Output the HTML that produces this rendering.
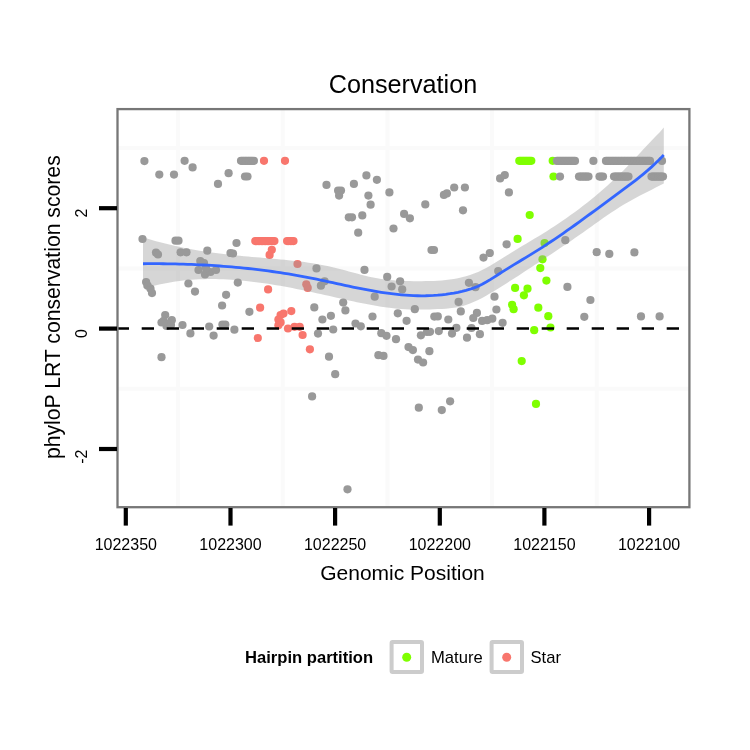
<!DOCTYPE html>
<html><head><meta charset="utf-8"><style>
html,body{margin:0;padding:0;background:#fff;}
svg{display:block;font-family:"Liberation Sans",sans-serif;will-change:transform;}
</style></head><body>
<svg width="750" height="750" viewBox="0 0 750 750">
<rect x="0" y="0" width="750" height="750" fill="#fff"/>
<text x="403" y="93" text-anchor="middle" font-size="25.2">Conservation</text>
<rect x="118" y="109" width="571" height="398" fill="#fff"/>
<line x1="178.1" y1="109" x2="178.1" y2="507" stroke="#fafafa" stroke-width="4"/><line x1="282.8" y1="109" x2="282.8" y2="507" stroke="#fafafa" stroke-width="4"/><line x1="387.5" y1="109" x2="387.5" y2="507" stroke="#fafafa" stroke-width="4"/><line x1="492.1" y1="109" x2="492.1" y2="507" stroke="#fafafa" stroke-width="4"/><line x1="596.8" y1="109" x2="596.8" y2="507" stroke="#fafafa" stroke-width="4"/><line x1="118" y1="148.0" x2="689" y2="148.0" stroke="#fafafa" stroke-width="4"/><line x1="118" y1="268.4" x2="689" y2="268.4" stroke="#fafafa" stroke-width="4"/><line x1="118" y1="388.8" x2="689" y2="388.8" stroke="#fafafa" stroke-width="4"/>
<circle cx="519.3" cy="160.8" r="4.1" fill="#7FFF00"/><circle cx="520.8" cy="160.8" r="4.1" fill="#7FFF00"/><circle cx="522.3" cy="160.8" r="4.1" fill="#7FFF00"/><circle cx="523.8" cy="160.8" r="4.1" fill="#7FFF00"/><circle cx="525.3" cy="160.8" r="4.1" fill="#7FFF00"/><circle cx="526.8" cy="160.8" r="4.1" fill="#7FFF00"/><circle cx="528.3" cy="160.8" r="4.1" fill="#7FFF00"/><circle cx="529.8" cy="160.8" r="4.1" fill="#7FFF00"/><circle cx="531.3" cy="160.8" r="4.1" fill="#7FFF00"/><circle cx="552.7" cy="160.8" r="4.1" fill="#7FFF00"/><circle cx="553.5" cy="176.5" r="4.1" fill="#7FFF00"/><circle cx="529.7" cy="215.0" r="4.1" fill="#7FFF00"/><circle cx="517.6" cy="238.9" r="4.1" fill="#7FFF00"/><circle cx="544.6" cy="243.0" r="4.1" fill="#7FFF00"/><circle cx="542.5" cy="259.3" r="4.1" fill="#7FFF00"/><circle cx="540.3" cy="268.1" r="4.1" fill="#7FFF00"/><circle cx="546.4" cy="280.6" r="4.1" fill="#7FFF00"/><circle cx="515.1" cy="287.9" r="4.1" fill="#7FFF00"/><circle cx="527.5" cy="288.7" r="4.1" fill="#7FFF00"/><circle cx="523.9" cy="295.3" r="4.1" fill="#7FFF00"/><circle cx="512.1" cy="304.8" r="4.1" fill="#7FFF00"/><circle cx="513.6" cy="309.2" r="4.1" fill="#7FFF00"/><circle cx="538.3" cy="307.7" r="4.1" fill="#7FFF00"/><circle cx="548.3" cy="316.2" r="4.1" fill="#7FFF00"/><circle cx="550.5" cy="327.5" r="4.1" fill="#7FFF00"/><circle cx="534.2" cy="330.2" r="4.1" fill="#7FFF00"/><circle cx="521.7" cy="361.1" r="4.1" fill="#7FFF00"/><circle cx="536.0" cy="403.9" r="4.1" fill="#7FFF00"/>
<circle cx="264.0" cy="160.8" r="4.1" fill="#F8766D"/><circle cx="285.0" cy="160.8" r="4.1" fill="#F8766D"/><circle cx="255.3" cy="241.1" r="4.1" fill="#F8766D"/><circle cx="256.8" cy="241.1" r="4.1" fill="#F8766D"/><circle cx="258.2" cy="241.1" r="4.1" fill="#F8766D"/><circle cx="259.7" cy="241.1" r="4.1" fill="#F8766D"/><circle cx="261.2" cy="241.1" r="4.1" fill="#F8766D"/><circle cx="262.6" cy="241.1" r="4.1" fill="#F8766D"/><circle cx="264.1" cy="241.1" r="4.1" fill="#F8766D"/><circle cx="265.6" cy="241.1" r="4.1" fill="#F8766D"/><circle cx="267.1" cy="241.1" r="4.1" fill="#F8766D"/><circle cx="268.5" cy="241.1" r="4.1" fill="#F8766D"/><circle cx="270.0" cy="241.1" r="4.1" fill="#F8766D"/><circle cx="271.5" cy="241.1" r="4.1" fill="#F8766D"/><circle cx="272.9" cy="241.1" r="4.1" fill="#F8766D"/><circle cx="274.4" cy="241.1" r="4.1" fill="#F8766D"/><circle cx="287.1" cy="241.1" r="4.1" fill="#F8766D"/><circle cx="288.7" cy="241.1" r="4.1" fill="#F8766D"/><circle cx="290.3" cy="241.1" r="4.1" fill="#F8766D"/><circle cx="291.9" cy="241.1" r="4.1" fill="#F8766D"/><circle cx="293.5" cy="241.1" r="4.1" fill="#F8766D"/><circle cx="271.8" cy="249.8" r="4.1" fill="#F8766D"/><circle cx="269.6" cy="254.9" r="4.1" fill="#F8766D"/><circle cx="297.5" cy="264.0" r="4.1" fill="#F8766D"/><circle cx="306.3" cy="284.3" r="4.1" fill="#F8766D"/><circle cx="307.7" cy="287.9" r="4.1" fill="#F8766D"/><circle cx="268.1" cy="289.4" r="4.1" fill="#F8766D"/><circle cx="260.1" cy="307.7" r="4.1" fill="#F8766D"/><circle cx="280.6" cy="315.1" r="4.1" fill="#F8766D"/><circle cx="278.4" cy="319.5" r="4.1" fill="#F8766D"/><circle cx="280.6" cy="322.4" r="4.1" fill="#F8766D"/><circle cx="278.4" cy="325.3" r="4.1" fill="#F8766D"/><circle cx="283.5" cy="313.6" r="4.1" fill="#F8766D"/><circle cx="291.3" cy="311.1" r="4.1" fill="#F8766D"/><circle cx="288.0" cy="328.5" r="4.1" fill="#F8766D"/><circle cx="294.5" cy="326.8" r="4.1" fill="#F8766D"/><circle cx="299.7" cy="326.8" r="4.1" fill="#F8766D"/><circle cx="302.6" cy="335.0" r="4.1" fill="#F8766D"/><circle cx="257.8" cy="338.0" r="4.1" fill="#F8766D"/><circle cx="309.9" cy="349.3" r="4.1" fill="#F8766D"/>
<circle cx="144.4" cy="161.1" r="4.1" fill="#999999"/><circle cx="159.3" cy="174.6" r="4.1" fill="#999999"/><circle cx="174.0" cy="174.6" r="4.1" fill="#999999"/><circle cx="184.6" cy="160.8" r="4.1" fill="#999999"/><circle cx="192.6" cy="167.4" r="4.1" fill="#999999"/><circle cx="218.0" cy="183.9" r="4.1" fill="#999999"/><circle cx="228.6" cy="173.2" r="4.1" fill="#999999"/><circle cx="245.0" cy="176.5" r="4.1" fill="#999999"/><circle cx="247.5" cy="176.5" r="4.1" fill="#999999"/><circle cx="326.5" cy="184.9" r="4.1" fill="#999999"/><circle cx="338.1" cy="190.5" r="4.1" fill="#999999"/><circle cx="341.0" cy="190.5" r="4.1" fill="#999999"/><circle cx="339.1" cy="195.6" r="4.1" fill="#999999"/><circle cx="353.9" cy="183.9" r="4.1" fill="#999999"/><circle cx="366.4" cy="175.4" r="4.1" fill="#999999"/><circle cx="376.9" cy="179.8" r="4.1" fill="#999999"/><circle cx="368.4" cy="195.6" r="4.1" fill="#999999"/><circle cx="370.6" cy="204.7" r="4.1" fill="#999999"/><circle cx="389.4" cy="192.4" r="4.1" fill="#999999"/><circle cx="348.8" cy="217.3" r="4.1" fill="#999999"/><circle cx="352.0" cy="217.3" r="4.1" fill="#999999"/><circle cx="362.3" cy="215.4" r="4.1" fill="#999999"/><circle cx="358.2" cy="232.7" r="4.1" fill="#999999"/><circle cx="393.5" cy="228.5" r="4.1" fill="#999999"/><circle cx="404.1" cy="213.9" r="4.1" fill="#999999"/><circle cx="409.9" cy="218.3" r="4.1" fill="#999999"/><circle cx="425.3" cy="204.4" r="4.1" fill="#999999"/><circle cx="431.5" cy="250.0" r="4.1" fill="#999999"/><circle cx="434.0" cy="250.0" r="4.1" fill="#999999"/><circle cx="443.9" cy="194.9" r="4.1" fill="#999999"/><circle cx="446.9" cy="193.4" r="4.1" fill="#999999"/><circle cx="454.2" cy="187.5" r="4.1" fill="#999999"/><circle cx="464.9" cy="187.5" r="4.1" fill="#999999"/><circle cx="463.0" cy="210.3" r="4.1" fill="#999999"/><circle cx="500.1" cy="178.4" r="4.1" fill="#999999"/><circle cx="504.8" cy="175.1" r="4.1" fill="#999999"/><circle cx="508.9" cy="192.4" r="4.1" fill="#999999"/><circle cx="506.6" cy="244.3" r="4.1" fill="#999999"/><circle cx="483.5" cy="257.6" r="4.1" fill="#999999"/><circle cx="489.8" cy="253.0" r="4.1" fill="#999999"/><circle cx="557.0" cy="160.9" r="4.1" fill="#999999"/><circle cx="558.5" cy="160.9" r="4.1" fill="#999999"/><circle cx="560.0" cy="160.9" r="4.1" fill="#999999"/><circle cx="561.5" cy="160.9" r="4.1" fill="#999999"/><circle cx="563.0" cy="160.9" r="4.1" fill="#999999"/><circle cx="564.5" cy="160.9" r="4.1" fill="#999999"/><circle cx="566.0" cy="160.9" r="4.1" fill="#999999"/><circle cx="567.5" cy="160.9" r="4.1" fill="#999999"/><circle cx="569.0" cy="160.9" r="4.1" fill="#999999"/><circle cx="570.5" cy="160.9" r="4.1" fill="#999999"/><circle cx="572.0" cy="160.9" r="4.1" fill="#999999"/><circle cx="573.5" cy="160.9" r="4.1" fill="#999999"/><circle cx="575.0" cy="160.9" r="4.1" fill="#999999"/><circle cx="593.4" cy="160.9" r="4.1" fill="#999999"/><circle cx="606.0" cy="160.9" r="4.1" fill="#999999"/><circle cx="607.5" cy="160.9" r="4.1" fill="#999999"/><circle cx="609.0" cy="160.9" r="4.1" fill="#999999"/><circle cx="610.6" cy="160.9" r="4.1" fill="#999999"/><circle cx="612.1" cy="160.9" r="4.1" fill="#999999"/><circle cx="613.6" cy="160.9" r="4.1" fill="#999999"/><circle cx="615.1" cy="160.9" r="4.1" fill="#999999"/><circle cx="616.6" cy="160.9" r="4.1" fill="#999999"/><circle cx="618.1" cy="160.9" r="4.1" fill="#999999"/><circle cx="619.7" cy="160.9" r="4.1" fill="#999999"/><circle cx="621.2" cy="160.9" r="4.1" fill="#999999"/><circle cx="622.7" cy="160.9" r="4.1" fill="#999999"/><circle cx="624.2" cy="160.9" r="4.1" fill="#999999"/><circle cx="625.7" cy="160.9" r="4.1" fill="#999999"/><circle cx="627.2" cy="160.9" r="4.1" fill="#999999"/><circle cx="628.8" cy="160.9" r="4.1" fill="#999999"/><circle cx="630.3" cy="160.9" r="4.1" fill="#999999"/><circle cx="631.8" cy="160.9" r="4.1" fill="#999999"/><circle cx="633.3" cy="160.9" r="4.1" fill="#999999"/><circle cx="634.8" cy="160.9" r="4.1" fill="#999999"/><circle cx="636.3" cy="160.9" r="4.1" fill="#999999"/><circle cx="637.9" cy="160.9" r="4.1" fill="#999999"/><circle cx="639.4" cy="160.9" r="4.1" fill="#999999"/><circle cx="640.9" cy="160.9" r="4.1" fill="#999999"/><circle cx="642.4" cy="160.9" r="4.1" fill="#999999"/><circle cx="643.9" cy="160.9" r="4.1" fill="#999999"/><circle cx="645.4" cy="160.9" r="4.1" fill="#999999"/><circle cx="647.0" cy="160.9" r="4.1" fill="#999999"/><circle cx="648.5" cy="160.9" r="4.1" fill="#999999"/><circle cx="650.0" cy="160.9" r="4.1" fill="#999999"/><circle cx="662.0" cy="160.9" r="4.1" fill="#999999"/><circle cx="560.0" cy="176.6" r="4.1" fill="#999999"/><circle cx="579.0" cy="176.6" r="4.1" fill="#999999"/><circle cx="580.6" cy="176.6" r="4.1" fill="#999999"/><circle cx="582.2" cy="176.6" r="4.1" fill="#999999"/><circle cx="583.8" cy="176.6" r="4.1" fill="#999999"/><circle cx="585.3" cy="176.6" r="4.1" fill="#999999"/><circle cx="586.9" cy="176.6" r="4.1" fill="#999999"/><circle cx="588.5" cy="176.6" r="4.1" fill="#999999"/><circle cx="599.5" cy="176.6" r="4.1" fill="#999999"/><circle cx="601.2" cy="176.6" r="4.1" fill="#999999"/><circle cx="603.0" cy="176.6" r="4.1" fill="#999999"/><circle cx="614.0" cy="176.6" r="4.1" fill="#999999"/><circle cx="615.5" cy="176.6" r="4.1" fill="#999999"/><circle cx="616.9" cy="176.6" r="4.1" fill="#999999"/><circle cx="618.4" cy="176.6" r="4.1" fill="#999999"/><circle cx="619.8" cy="176.6" r="4.1" fill="#999999"/><circle cx="621.2" cy="176.6" r="4.1" fill="#999999"/><circle cx="622.7" cy="176.6" r="4.1" fill="#999999"/><circle cx="624.1" cy="176.6" r="4.1" fill="#999999"/><circle cx="625.6" cy="176.6" r="4.1" fill="#999999"/><circle cx="627.0" cy="176.6" r="4.1" fill="#999999"/><circle cx="628.5" cy="176.6" r="4.1" fill="#999999"/><circle cx="651.5" cy="176.6" r="4.1" fill="#999999"/><circle cx="652.9" cy="176.6" r="4.1" fill="#999999"/><circle cx="654.4" cy="176.6" r="4.1" fill="#999999"/><circle cx="655.8" cy="176.6" r="4.1" fill="#999999"/><circle cx="657.2" cy="176.6" r="4.1" fill="#999999"/><circle cx="658.7" cy="176.6" r="4.1" fill="#999999"/><circle cx="660.1" cy="176.6" r="4.1" fill="#999999"/><circle cx="661.6" cy="176.6" r="4.1" fill="#999999"/><circle cx="663.0" cy="176.6" r="4.1" fill="#999999"/><circle cx="241.0" cy="160.8" r="4.1" fill="#999999"/><circle cx="242.4" cy="160.8" r="4.1" fill="#999999"/><circle cx="243.9" cy="160.8" r="4.1" fill="#999999"/><circle cx="245.3" cy="160.8" r="4.1" fill="#999999"/><circle cx="246.7" cy="160.8" r="4.1" fill="#999999"/><circle cx="248.2" cy="160.8" r="4.1" fill="#999999"/><circle cx="249.6" cy="160.8" r="4.1" fill="#999999"/><circle cx="251.0" cy="160.8" r="4.1" fill="#999999"/><circle cx="252.5" cy="160.8" r="4.1" fill="#999999"/><circle cx="253.9" cy="160.8" r="4.1" fill="#999999"/><circle cx="565.3" cy="240.2" r="4.1" fill="#999999"/><circle cx="596.7" cy="252.2" r="4.1" fill="#999999"/><circle cx="609.3" cy="253.8" r="4.1" fill="#999999"/><circle cx="634.4" cy="252.4" r="4.1" fill="#999999"/><circle cx="142.5" cy="239.0" r="4.1" fill="#999999"/><circle cx="175.5" cy="240.7" r="4.1" fill="#999999"/><circle cx="178.5" cy="240.7" r="4.1" fill="#999999"/><circle cx="236.5" cy="243.0" r="4.1" fill="#999999"/><circle cx="156.0" cy="252.5" r="4.1" fill="#999999"/><circle cx="158.0" cy="254.5" r="4.1" fill="#999999"/><circle cx="180.6" cy="252.3" r="4.1" fill="#999999"/><circle cx="186.5" cy="252.3" r="4.1" fill="#999999"/><circle cx="207.3" cy="250.7" r="4.1" fill="#999999"/><circle cx="230.5" cy="253.0" r="4.1" fill="#999999"/><circle cx="233.0" cy="253.5" r="4.1" fill="#999999"/><circle cx="200.3" cy="261.0" r="4.1" fill="#999999"/><circle cx="204.0" cy="263.0" r="4.1" fill="#999999"/><circle cx="198.5" cy="270.0" r="4.1" fill="#999999"/><circle cx="205.0" cy="274.5" r="4.1" fill="#999999"/><circle cx="210.5" cy="272.0" r="4.1" fill="#999999"/><circle cx="216.0" cy="270.0" r="4.1" fill="#999999"/><circle cx="206.0" cy="268.0" r="4.1" fill="#999999"/><circle cx="146.1" cy="282.1" r="4.1" fill="#999999"/><circle cx="147.6" cy="285.7" r="4.1" fill="#999999"/><circle cx="150.5" cy="288.7" r="4.1" fill="#999999"/><circle cx="152.0" cy="293.1" r="4.1" fill="#999999"/><circle cx="188.4" cy="283.5" r="4.1" fill="#999999"/><circle cx="195.0" cy="291.6" r="4.1" fill="#999999"/><circle cx="226.1" cy="294.8" r="4.1" fill="#999999"/><circle cx="222.1" cy="305.5" r="4.1" fill="#999999"/><circle cx="237.8" cy="282.6" r="4.1" fill="#999999"/><circle cx="165.2" cy="315.1" r="4.1" fill="#999999"/><circle cx="163.7" cy="320.9" r="4.1" fill="#999999"/><circle cx="171.8" cy="320.2" r="4.1" fill="#999999"/><circle cx="168.1" cy="323.9" r="4.1" fill="#999999"/><circle cx="166.5" cy="326.0" r="4.1" fill="#999999"/><circle cx="171.0" cy="325.0" r="4.1" fill="#999999"/><circle cx="161.5" cy="322.5" r="4.1" fill="#999999"/><circle cx="182.5" cy="325.0" r="4.1" fill="#999999"/><circle cx="190.4" cy="333.4" r="4.1" fill="#999999"/><circle cx="209.2" cy="326.5" r="4.1" fill="#999999"/><circle cx="222.4" cy="324.6" r="4.1" fill="#999999"/><circle cx="225.3" cy="324.6" r="4.1" fill="#999999"/><circle cx="213.6" cy="335.6" r="4.1" fill="#999999"/><circle cx="234.4" cy="329.7" r="4.1" fill="#999999"/><circle cx="316.5" cy="268.4" r="4.1" fill="#999999"/><circle cx="320.9" cy="285.7" r="4.1" fill="#999999"/><circle cx="324.6" cy="281.3" r="4.1" fill="#999999"/><circle cx="249.4" cy="311.8" r="4.1" fill="#999999"/><circle cx="314.3" cy="307.4" r="4.1" fill="#999999"/><circle cx="322.4" cy="319.5" r="4.1" fill="#999999"/><circle cx="330.9" cy="315.8" r="4.1" fill="#999999"/><circle cx="318.0" cy="333.6" r="4.1" fill="#999999"/><circle cx="333.2" cy="329.5" r="4.1" fill="#999999"/><circle cx="364.5" cy="269.9" r="4.1" fill="#999999"/><circle cx="387.2" cy="276.9" r="4.1" fill="#999999"/><circle cx="400.1" cy="281.3" r="4.1" fill="#999999"/><circle cx="391.6" cy="286.5" r="4.1" fill="#999999"/><circle cx="402.2" cy="289.4" r="4.1" fill="#999999"/><circle cx="374.7" cy="296.7" r="4.1" fill="#999999"/><circle cx="343.2" cy="302.6" r="4.1" fill="#999999"/><circle cx="345.4" cy="310.4" r="4.1" fill="#999999"/><circle cx="372.5" cy="316.5" r="4.1" fill="#999999"/><circle cx="397.8" cy="313.3" r="4.1" fill="#999999"/><circle cx="414.8" cy="309.2" r="4.1" fill="#999999"/><circle cx="406.6" cy="320.8" r="4.1" fill="#999999"/><circle cx="434.3" cy="316.6" r="4.1" fill="#999999"/><circle cx="437.8" cy="316.4" r="4.1" fill="#999999"/><circle cx="355.5" cy="323.5" r="4.1" fill="#999999"/><circle cx="360.8" cy="326.3" r="4.1" fill="#999999"/><circle cx="381.3" cy="333.2" r="4.1" fill="#999999"/><circle cx="386.5" cy="335.8" r="4.1" fill="#999999"/><circle cx="420.9" cy="335.3" r="4.1" fill="#999999"/><circle cx="427.0" cy="332.0" r="4.1" fill="#999999"/><circle cx="438.8" cy="331.1" r="4.1" fill="#999999"/><circle cx="396.0" cy="339.2" r="4.1" fill="#999999"/><circle cx="498.2" cy="271.1" r="4.1" fill="#999999"/><circle cx="468.9" cy="282.8" r="4.1" fill="#999999"/><circle cx="475.5" cy="287.2" r="4.1" fill="#999999"/><circle cx="494.5" cy="296.7" r="4.1" fill="#999999"/><circle cx="458.6" cy="301.9" r="4.1" fill="#999999"/><circle cx="460.8" cy="311.4" r="4.1" fill="#999999"/><circle cx="448.3" cy="319.5" r="4.1" fill="#999999"/><circle cx="476.9" cy="312.9" r="4.1" fill="#999999"/><circle cx="473.3" cy="318.0" r="4.1" fill="#999999"/><circle cx="482.1" cy="320.9" r="4.1" fill="#999999"/><circle cx="487.2" cy="320.2" r="4.1" fill="#999999"/><circle cx="492.3" cy="318.7" r="4.1" fill="#999999"/><circle cx="496.4" cy="309.5" r="4.1" fill="#999999"/><circle cx="502.6" cy="322.8" r="4.1" fill="#999999"/><circle cx="430.0" cy="331.8" r="4.1" fill="#999999"/><circle cx="456.4" cy="327.8" r="4.1" fill="#999999"/><circle cx="452.0" cy="333.6" r="4.1" fill="#999999"/><circle cx="471.5" cy="328.0" r="4.1" fill="#999999"/><circle cx="479.9" cy="334.2" r="4.1" fill="#999999"/><circle cx="467.0" cy="337.7" r="4.1" fill="#999999"/><circle cx="567.4" cy="286.9" r="4.1" fill="#999999"/><circle cx="590.4" cy="300.0" r="4.1" fill="#999999"/><circle cx="584.3" cy="316.8" r="4.1" fill="#999999"/><circle cx="641.0" cy="316.4" r="4.1" fill="#999999"/><circle cx="659.6" cy="316.4" r="4.1" fill="#999999"/><circle cx="161.5" cy="357.2" r="4.1" fill="#999999"/><circle cx="329.0" cy="356.7" r="4.1" fill="#999999"/><circle cx="335.2" cy="374.2" r="4.1" fill="#999999"/><circle cx="312.1" cy="396.4" r="4.1" fill="#999999"/><circle cx="378.4" cy="355.2" r="4.1" fill="#999999"/><circle cx="383.5" cy="355.9" r="4.1" fill="#999999"/><circle cx="408.5" cy="347.1" r="4.1" fill="#999999"/><circle cx="412.9" cy="350.1" r="4.1" fill="#999999"/><circle cx="418.0" cy="359.6" r="4.1" fill="#999999"/><circle cx="423.1" cy="362.5" r="4.1" fill="#999999"/><circle cx="429.4" cy="351.2" r="4.1" fill="#999999"/><circle cx="418.8" cy="407.7" r="4.1" fill="#999999"/><circle cx="441.8" cy="410.1" r="4.1" fill="#999999"/><circle cx="450.1" cy="401.3" r="4.1" fill="#999999"/><circle cx="347.5" cy="489.3" r="4.1" fill="#999999"/>
<path d="M143.00,237.31 147.04,238.55 151.07,239.74 155.11,240.88 159.15,241.98 163.19,243.03 167.22,244.04 171.26,245.01 175.30,245.93 179.33,246.82 183.37,247.66 187.41,248.46 191.45,249.23 195.48,249.96 199.52,250.65 203.56,251.30 207.60,251.92 211.63,252.50 215.67,253.06 219.71,253.58 223.74,254.07 227.78,254.53 231.82,254.97 235.86,255.38 239.89,255.78 243.93,256.16 247.97,256.53 252.00,256.90 256.04,257.25 260.08,257.60 264.12,257.95 268.15,258.30 272.19,258.66 276.23,259.03 280.27,259.40 284.30,259.80 288.34,260.20 292.38,260.63 296.41,261.09 300.45,261.57 304.49,262.09 308.53,262.65 312.56,263.25 316.60,263.91 320.64,264.63 324.67,265.42 328.71,266.27 332.75,267.19 336.79,268.19 340.82,269.23 344.86,270.31 348.90,271.41 352.93,272.51 356.97,273.60 361.01,274.65 365.05,275.67 369.08,276.63 373.12,277.50 377.16,278.29 381.20,278.97 385.23,279.54 389.27,280.00 393.31,280.37 397.34,280.65 401.38,280.86 405.42,281.00 409.46,281.09 413.49,281.13 417.53,281.14 421.57,281.13 425.60,281.10 429.64,281.02 433.68,280.90 437.72,280.70 441.75,280.43 445.79,280.06 449.83,279.57 453.87,278.96 457.90,278.21 461.94,277.31 465.98,276.24 470.01,274.99 474.05,273.55 478.09,271.89 482.13,270.02 486.16,267.94 490.20,265.69 494.24,263.30 498.27,260.82 502.31,258.29 506.35,255.73 510.39,253.20 514.42,250.72 518.46,248.27 522.50,245.85 526.53,243.44 530.57,241.04 534.61,238.62 538.65,236.18 542.68,233.69 546.72,231.17 550.76,228.59 554.80,225.96 558.83,223.28 562.87,220.54 566.91,217.73 570.94,214.87 574.98,211.94 579.02,208.93 583.06,205.86 587.09,202.70 591.13,199.47 595.17,196.16 599.20,192.76 603.24,189.27 607.28,185.69 611.32,182.01 615.35,178.24 619.39,174.37 623.43,170.39 627.47,166.30 631.50,162.11 635.54,157.82 639.58,153.47 643.61,149.12 647.65,144.79 651.69,140.53 655.73,136.37 659.76,132.14 663.80,127.62 L663.80,183.59 659.76,185.60 655.73,187.61 651.69,189.63 647.65,191.66 643.61,193.72 639.58,195.83 635.54,197.98 631.50,200.20 627.47,202.50 623.43,204.87 619.39,207.35 615.35,209.92 611.32,212.58 607.28,215.32 603.24,218.11 599.20,220.95 595.17,223.82 591.13,226.71 587.09,229.59 583.06,232.47 579.02,235.31 574.98,238.12 570.94,240.90 566.91,243.64 562.87,246.37 558.83,249.06 554.80,251.75 550.76,254.42 546.72,257.08 542.68,259.74 538.65,262.40 534.61,265.05 530.57,267.71 526.53,270.36 522.50,273.01 518.46,275.64 514.42,278.25 510.39,280.85 506.35,283.42 502.31,285.97 498.27,288.49 494.24,290.97 490.20,293.37 486.16,295.69 482.13,297.88 478.09,299.93 474.05,301.82 470.01,303.50 465.98,304.97 461.94,306.19 457.90,307.14 453.87,307.83 449.83,308.33 445.79,308.67 441.75,308.91 437.72,309.11 433.68,309.28 429.64,309.41 425.60,309.52 421.57,309.57 417.53,309.58 413.49,309.54 409.46,309.43 405.42,309.26 401.38,309.01 397.34,308.69 393.31,308.28 389.27,307.81 385.23,307.27 381.20,306.67 377.16,306.02 373.12,305.32 369.08,304.57 365.05,303.79 361.01,302.97 356.97,302.13 352.93,301.27 348.90,300.39 344.86,299.50 340.82,298.60 336.79,297.69 332.75,296.78 328.71,295.87 324.67,294.96 320.64,294.05 316.60,293.16 312.56,292.27 308.53,291.40 304.49,290.54 300.45,289.70 296.41,288.88 292.38,288.09 288.34,287.31 284.30,286.57 280.27,285.84 276.23,285.15 272.19,284.48 268.15,283.85 264.12,283.24 260.08,282.67 256.04,282.14 252.00,281.65 247.97,281.19 243.93,280.77 239.89,280.39 235.86,280.06 231.82,279.77 227.78,279.53 223.74,279.34 219.71,279.19 215.67,279.10 211.63,279.06 207.60,279.07 203.56,279.15 199.52,279.29 195.48,279.49 191.45,279.77 187.41,280.11 183.37,280.54 179.33,281.04 175.30,281.62 171.26,282.29 167.22,283.03 163.19,283.81 159.15,284.61 155.11,285.41 151.07,286.20 147.04,286.94 143.00,287.63 Z" fill="#999999" fill-opacity="0.4"/>
<path d="M143.00,263.73 147.04,263.71 151.07,263.70 155.11,263.70 159.15,263.72 163.19,263.75 167.22,263.80 171.26,263.86 175.30,263.94 179.33,264.04 183.37,264.15 187.41,264.29 191.45,264.43 195.48,264.60 199.52,264.78 203.56,264.99 207.60,265.21 211.63,265.45 215.67,265.70 219.71,265.98 223.74,266.28 227.78,266.60 231.82,266.93 235.86,267.29 239.89,267.67 243.93,268.07 247.97,268.50 252.00,268.94 256.04,269.41 260.08,269.89 264.12,270.41 268.15,270.94 272.19,271.50 276.23,272.08 280.27,272.68 284.30,273.31 288.34,273.97 292.38,274.65 296.41,275.35 300.45,276.08 304.49,276.83 308.53,277.61 312.56,278.42 316.60,279.24 320.64,280.09 324.67,280.95 328.71,281.81 332.75,282.68 336.79,283.56 340.82,284.43 344.86,285.30 348.90,286.16 352.93,287.01 356.97,287.84 361.01,288.65 365.05,289.43 369.08,290.19 373.12,290.91 377.16,291.60 381.20,292.26 385.23,292.86 389.27,293.43 393.31,293.94 397.34,294.40 401.38,294.80 405.42,295.13 409.46,295.41 413.49,295.61 417.53,295.74 421.57,295.79 425.60,295.77 429.64,295.66 433.68,295.46 437.72,295.17 441.75,294.78 445.79,294.30 449.83,293.72 453.87,293.04 457.90,292.26 461.94,291.38 465.98,290.38 470.01,289.22 474.05,287.84 478.09,286.21 482.13,284.27 486.16,282.06 490.20,279.64 494.24,277.08 498.27,274.48 502.31,271.90 506.35,269.37 510.39,266.88 514.42,264.41 518.46,261.97 522.50,259.53 526.53,257.09 530.57,254.64 534.61,252.16 538.65,249.64 542.68,247.07 546.72,244.45 550.76,241.79 554.80,239.08 558.83,236.33 562.87,233.54 566.91,230.72 570.94,227.87 574.98,224.99 579.02,222.09 583.06,219.16 587.09,216.21 591.13,213.25 595.17,210.28 599.20,207.29 603.24,204.30 607.28,201.31 611.32,198.31 615.35,195.32 619.39,192.34 623.43,189.36 627.47,186.38 631.50,183.35 635.54,180.27 639.58,177.10 643.61,173.82 647.65,170.41 651.69,166.84 655.73,163.09 659.76,159.13 663.80,154.94" fill="none" stroke="#3366FF" stroke-width="2.8"/>
<line x1="118" y1="328.5" x2="689" y2="328.5" stroke="#000" stroke-width="2.6" stroke-dasharray="12.3 12.7" stroke-dashoffset="1.3"/>
<rect x="117.5" y="109.1" width="571.9" height="398.1" fill="none" stroke="#777777" stroke-width="2.3"/>
<line x1="125.8" y1="508" x2="125.8" y2="525.6" stroke="#000" stroke-width="4.2"/><line x1="230.5" y1="508" x2="230.5" y2="525.6" stroke="#000" stroke-width="4.2"/><line x1="335.1" y1="508" x2="335.1" y2="525.6" stroke="#000" stroke-width="4.2"/><line x1="439.8" y1="508" x2="439.8" y2="525.6" stroke="#000" stroke-width="4.2"/><line x1="544.4" y1="508" x2="544.4" y2="525.6" stroke="#000" stroke-width="4.2"/><line x1="649.1" y1="508" x2="649.1" y2="525.6" stroke="#000" stroke-width="4.2"/>
<text x="125.8" y="549.8" text-anchor="middle" font-size="16">1022350</text><text x="230.5" y="549.8" text-anchor="middle" font-size="16">1022300</text><text x="335.1" y="549.8" text-anchor="middle" font-size="16">1022250</text><text x="439.8" y="549.8" text-anchor="middle" font-size="16">1022200</text><text x="544.4" y="549.8" text-anchor="middle" font-size="16">1022150</text><text x="649.1" y="549.8" text-anchor="middle" font-size="16">1022100</text>
<line x1="99" y1="208.2" x2="117" y2="208.2" stroke="#000" stroke-width="4.2"/><line x1="99" y1="328.6" x2="117" y2="328.6" stroke="#000" stroke-width="4.2"/><line x1="99" y1="449.0" x2="117" y2="449.0" stroke="#000" stroke-width="4.2"/>
<text transform="translate(87,208.7) rotate(-90)" text-anchor="end" font-size="16">2</text><text transform="translate(87,329.1) rotate(-90)" text-anchor="end" font-size="16">0</text><text transform="translate(87,449.5) rotate(-90)" text-anchor="end" font-size="16">-2</text>
<text x="402.5" y="580" text-anchor="middle" font-size="21">Genomic Position</text>
<text transform="translate(60,307.2) rotate(-90)" text-anchor="middle" font-size="21.2">phyloP LRT conservation scores</text>
<text x="245" y="663.2" font-size="16.6" font-weight="bold">Hairpin partition</text>
<rect x="391.6" y="642" width="30.4" height="30" rx="1" fill="#fff" stroke="#cccccc" stroke-width="4" stroke-linejoin="round"/>
<circle cx="406.7" cy="657.3" r="4.5" fill="#7FFF00"/>
<text x="431" y="662.7" font-size="16.6">Mature</text>
<rect x="491.6" y="642" width="30.4" height="30" rx="1" fill="#fff" stroke="#cccccc" stroke-width="4" stroke-linejoin="round"/>
<circle cx="506.7" cy="657.3" r="4.5" fill="#F8766D"/>
<text x="530.5" y="662.7" font-size="16.6">Star</text>
</svg>
</body></html>
